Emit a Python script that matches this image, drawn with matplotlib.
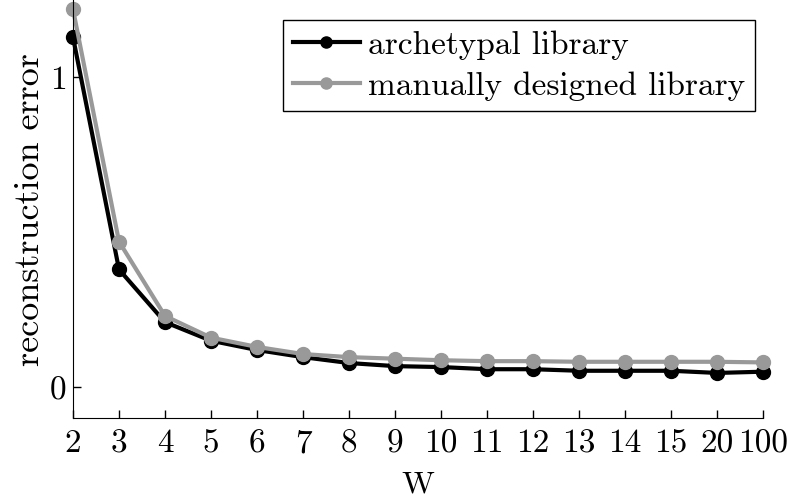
import matplotlib
matplotlib.use("Agg")
import matplotlib.pyplot as plt

# data
w_labels = ['2', '3', '4', '5', '6', '7', '8', '9', '10', '11', '12', '13', '14', '15', '20', '100']
archetypal = [1.13, 0.38, 0.21, 0.15, 0.12, 0.097, 0.078, 0.068, 0.065, 0.058, 0.058, 0.053, 0.053, 0.053, 0.046, 0.05]
manual = [1.22, 0.47, 0.23, 0.16, 0.13, 0.107, 0.097, 0.092, 0.087, 0.084, 0.084, 0.082, 0.082, 0.082, 0.082, 0.08]

plt.rcParams['font.family'] = 'cmr10'
plt.rcParams['axes.formatter.use_mathtext'] = True

fig = plt.figure(figsize=(7.9, 4.99), dpi=100)
ax = fig.add_axes([0.0924, 0.162, 0.8736, 0.838])

pos = list(range(len(w_labels)))
ax.plot(pos, archetypal, color='black', lw=3, marker='o', ms=10,
        label='archetypal library', clip_on=False)
ax.plot(pos, manual, color='#999999', lw=3, marker='o', ms=10,
        label='manually designed library', clip_on=False)

ax.set_xlim(0, len(w_labels) - 1)
ax.set_ylim(-0.1, 1.25)
ax.set_xticks(pos)
ax.set_xticklabels(w_labels)
ax.set_yticks([0, 1])
ax.tick_params(direction='in', length=6, labelsize=24, width=1)
ax.tick_params(axis='x', pad=8)
ax.tick_params(axis='y', pad=5)
ax.spines['top'].set_visible(False)
ax.spines['right'].set_visible(False)
ax.set_xlabel('W', fontsize=23, labelpad=9)
ax.set_ylabel('reconstruction error', fontsize=26, labelpad=2)

leg = ax.legend(loc='upper right', fontsize=24, fancybox=False, framealpha=1,
                edgecolor='black', handlelength=2.0, borderpad=0.3,
                labelspacing=0.35, handletextpad=0.25, borderaxespad=0,
                markerscale=0.8,
                bbox_to_anchor=(755 / 790, 1 - 20 / 499),
                bbox_transform=fig.transFigure)
leg.get_frame().set_linewidth(1)

plt.savefig('out.png', dpi=100)
